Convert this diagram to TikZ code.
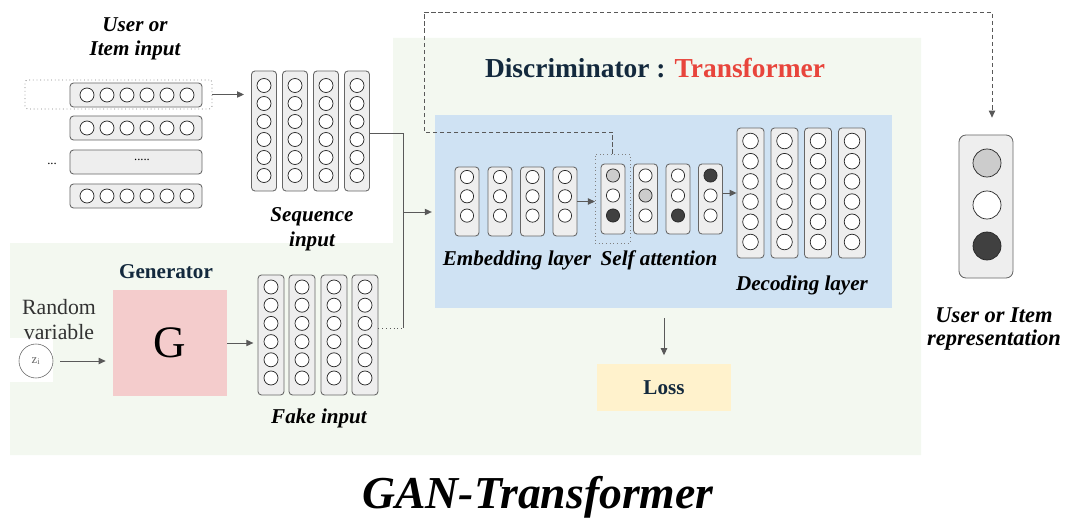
\documentclass[tikz,border=0pt]{standalone}
\usepackage{fontspec}
\setmainfont{Liberation Serif}
\usetikzlibrary{arrows.meta}
\definecolor{bggreen}{HTML}{F3F8F0}
\definecolor{bgblue}{HTML}{CFE2F3}
\definecolor{gpink}{HTML}{F4CCCC}
\definecolor{lossyellow}{HTML}{FFF2CC}
\definecolor{colfill}{HTML}{EEEEEE}
\definecolor{navy}{HTML}{13293D}
\definecolor{tred}{HTML}{E8453C}
\definecolor{darkunit}{HTML}{404040}
\definecolor{lightunit}{HTML}{CCCCCC}

\begin{document}
\begin{tikzpicture}[x=0.025cm,y=-0.025cm,
  colbox/.style={draw=black!60,fill=colfill,rounded corners=2.5pt,line width=0.6pt,inner sep=0pt},
  unit/.style={circle,draw=black!85,fill=white,line width=0.5pt,inner sep=0pt,minimum size=0.35cm},
  lbl/.style={font=\fontsize{15}{17.5}\selectfont\bfseries\itshape,align=center},
  wire/.style={draw=black!65,line width=0.7pt},
  arr/.style={wire,-{Triangle[length=5pt,width=4.5pt]}},
  ]
	\useasboundingbox (0,0) rectangle (1065,525);
	% backgrounds
	\fill [bggreen] (393,38) -- (921,38) -- (921,455) -- (10,455) -- (10,243) -- (393,243) -- cycle;
	\fill [white] (10,338) rectangle (53,382);
	\node [fill=bgblue,minimum width=11.425cm,minimum height=4.825cm,inner sep=0] (tf) at (663.5,211.5) {};
	\node [font=\fontsize{19.5}{22}\selectfont\bfseries] (dtitle) at (655,68) {\textcolor{navy}{Discriminator :} \textcolor{tred}{Transformer}};

	% user or item input
	\node [lbl] (uilbl) at (135,39) {User or\\Item input};
	\foreach \r/\y in {1/95,2/128,3/162,4/196}
		\node [colbox,minimum width=3.3cm,minimum height=0.6cm] (row\r) at (136,\y) {};
	\foreach \y in {95,128,196}
		\foreach \k in {0,...,5}
			\node [unit] at (87+20*\k,\y) {};
	\node [font=\small] (rowdots) at (142,160) {.....};
	\node [font=\small] (moredots) at (52,164) {...};
	\node [draw=black!50,dotted,line width=0.6pt,rounded corners=2pt,minimum width=4.675cm,minimum height=0.725cm,inner sep=0] (sel) at (118.5,94.5) {};

	% sequence input
	\foreach \i/\x in {1/264,2/295,3/326,4/357} {
		\node [colbox,minimum width=0.625cm,minimum height=3cm] (s\i) at (\x,131) {};
		\foreach \k in {0,...,5}
			\node [unit] at (\x,85.5+18*\k) {};
	}
	\node [lbl] (seqlbl) at (312,229) {Sequence\\input};
	\draw [arr,shorten >=5pt] (sel.east) -- (sel.east -| s1.west);

	% generator
	\node [font=\fontsize{15}{17}\selectfont\bfseries,text=navy] (genlbl) at (166,272) {Generator};
	\node [fill=gpink,minimum width=2.85cm,minimum height=2.65cm,font=\fontsize{32}{34}\selectfont] (gen) at (170,343) {G};
	\node [font=\fontsize{15.5}{18}\selectfont,text=black!80,align=center] (rvlbl) at (59,319.5) {Random\\variable};
	\node [circle,draw=black!60,fill=white,minimum size=0.85cm,inner sep=0,font=\small,text=black!60] (z) at (36,361) {z\textsubscript{i}};
	\draw [arr,shorten <=5pt,shorten >=5pt] (z.east) -- (z.east -| gen.west);

	% fake input
	\foreach \i/\x in {1/271,2/302,3/334,4/365} {
		\node [colbox,minimum width=0.65cm,minimum height=3cm] (f\i) at (\x,335) {};
		\foreach \k in {0,...,5}
			\node [unit] at (\x,287+18.2*\k) {};
	}
	\node [lbl] (fakelbl) at (319,418) {Fake input};
	\draw [arr,shorten >=3pt] (gen.east) -- (gen.east -| f1.west);

	% join into the discriminator
	\coordinate (jtop) at (403,133);
	\coordinate (jbot) at (403,328);
	\coordinate (jin) at (403,212);
	\draw [wire] (s4.east |- jtop) -- (jtop) -- (jbot);
	\draw [wire,dotted] (f4.east |- jbot) -- (jbot);
	\draw [arr,shorten >=2pt] (jin) -- (jin -| tf.west);

	% embedding layer
	\foreach \i/\x in {1/467,2/500,3/532.5,4/565} {
		\node [colbox,minimum width=0.6cm,minimum height=1.725cm] (e\i) at (\x,201.5) {};
		\foreach \k in {0,1,2}
			\node [unit,minimum size=0.33cm] at (\x,177+19.3*\k) {};
	}
	\node [lbl] (emblbl) at (517,260) {Embedding layer};

	% self attention
	\foreach \i/\x/\fa/\fb/\fc in {1/613/lightunit/white/darkunit,2/645.5/white/lightunit/white,3/678/white/white/darkunit,4/710.5/darkunit/white/white} {
		\node [colbox,minimum width=0.6cm,minimum height=1.75cm] (a\i) at (\x,199) {};
		\node [unit,minimum size=0.33cm,fill=\fa] at (\x,175.5) {};
		\node [unit,minimum size=0.33cm,fill=\fb] at (\x,195.5) {};
		\node [unit,minimum size=0.33cm,fill=\fc] at (\x,215.5) {};
	}
	\node [draw=black!50,dotted,line width=0.6pt,minimum width=0.875cm,minimum height=2.225cm,inner sep=0] (focus) at (612.5,198.5) {};
	\node [lbl] (attlbl) at (659,260) {Self attention};
	\draw [arr,shorten >=4pt] (e4.east) -- (e4.east -| a1.west);

	% decoding layer
	\foreach \i/\x in {1/750.5,2/784.5,3/818,4/852} {
		\node [colbox,minimum width=0.675cm,minimum height=3.25cm] (d\i) at (\x,193) {};
		\foreach \k in {0,...,5}
			\node [unit,minimum size=0.39cm] at (\x,141+20.2*\k) {};
	}
	\node [lbl] (declbl) at (802,285) {Decoding layer};
	\draw [arr] (a4.east |- d1.west) -- (d1.west);

	% loss
	\node [fill=lossyellow,minimum width=3.35cm,minimum height=1.175cm,font=\fontsize{15}{17}\selectfont\bfseries,text=navy] (loss) at (664,387.5) {Loss};
	\coordinate (lossin) at (664,318);
	\draw [arr,shorten >=6pt] (lossin) -- (loss.north);

	% user or item representation
	\node [colbox,rounded corners=5pt,minimum width=1.35cm,minimum height=3.575cm] (rep) at (986,206.5) {};
	\node [unit,minimum size=0.7cm,fill=lightunit] (rep1) at (987,163) {};
	\node [unit,minimum size=0.7cm] (rep2) at (987,205) {};
	\node [unit,minimum size=0.7cm,fill=darkunit] (rep3) at (987,246) {};
	\node [lbl,font=\fontsize{16}{16}\selectfont\bfseries\itshape] (replbl) at (994,329) {User or Item\\representation};
	\coordinate (dk1) at (424,132);
	\coordinate (dk2) at (424,12);
	\coordinate (dk3) at (992,12);
	\draw [arr,dash pattern=on 3pt off 2pt,shorten >=12pt] (focus.north) |- (dk1) -- (dk2) -- (dk3) -- (dk3 |- rep.north);

	\node [font=\fontsize{32.5}{34}\selectfont\bfseries\itshape] (title) at (538,497) {GAN-Transformer};
\end{tikzpicture}
\end{document}
